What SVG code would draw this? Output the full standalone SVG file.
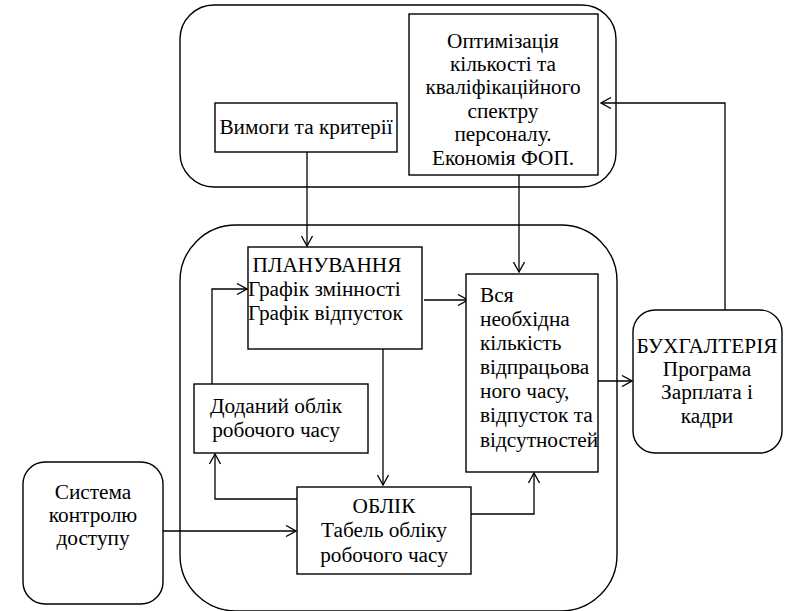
<svg xmlns="http://www.w3.org/2000/svg" width="789" height="611" viewBox="0 0 789 611">
<style>
.box{fill:#fff;stroke:#000;stroke-width:1.4}
.cont{fill:none;stroke:#000;stroke-width:1.4}
.ln{fill:none;stroke:#000;stroke-width:1.3}
text{font-family:'Liberation Serif','Times New Roman',serif;font-size:21.3px;fill:#000}
.c{text-anchor:middle}
</style>
<defs>
<marker id="arr" markerWidth="12" markerHeight="12" viewBox="-11 -6 12 12" refX="0" refY="0" orient="auto" markerUnits="userSpaceOnUse">
<path d="M-10,-5.5 L0,0 L-10,5.5" fill="none" stroke="#000" stroke-width="1.3"/>
</marker>
</defs>
<rect width="789" height="611" fill="#fff"/>
<g id="containers">
<rect class="cont" x="180" y="5" width="436" height="182" rx="34"/>
<rect class="cont" x="180" y="225" width="437" height="386" rx="56"/>
</g>
<g id="connectors">
<path class="ln" d="M307,152 V246" marker-end="url(#arr)"/>
<path class="ln" d="M519,175 V272" marker-end="url(#arr)"/>
<path class="ln" d="M212,384 V289 H247" marker-end="url(#arr)"/>
<path class="ln" d="M424,300 H468" marker-end="url(#arr)"/>
<path class="ln" d="M383,348 V485" marker-end="url(#arr)"/>
<path class="ln" d="M297,499 H215 V454" marker-end="url(#arr)"/>
<path class="ln" d="M471,514 H534 V473" marker-end="url(#arr)"/>
<path class="ln" d="M163,531 H296" marker-end="url(#arr)"/>
<path class="ln" d="M598,381 H632" marker-end="url(#arr)"/>
<path class="ln" d="M725,310 V103 H601" marker-end="url(#arr)"/>
</g>
<g id="opt">
<rect class="box" x="409" y="14" width="189" height="161"/>
<text class="c" x="503" y="48">Оптимізація</text>
<text class="c" x="503" y="71">кількості та</text>
<text class="c" x="503" y="94">кваліфікаційного</text>
<text class="c" x="503" y="118">спектру</text>
<text class="c" x="503" y="141">персоналу.</text>
<text class="c" x="503" y="165">Економія ФОП.</text>
</g>
<g id="vimogi">
<rect class="box" x="215" y="103" width="182" height="49"/>
<text class="c" x="306" y="134">Вимоги та критерії</text>
</g>
<g id="planuvannia">
<rect class="box" x="248" y="247" width="174" height="102"/>
<text class="c" x="327" y="272">ПЛАНУВАННЯ</text>
<text x="248" y="296">Графік змінності</text>
<text x="248" y="320">Графік відпусток</text>
</g>
<g id="vsia">
<rect class="box" x="466" y="274" width="132" height="198"/>
<text x="480" y="302">Вся</text>
<text x="480" y="326">необхідна</text>
<text x="480" y="350">кількість</text>
<text x="480" y="374">відпрацьова</text>
<text x="480" y="398">ного часу,</text>
<text x="480" y="422">відпусток та</text>
<text x="480" y="447">відсутностей</text>
</g>
<g id="dodanyi">
<rect class="box" x="194" y="384" width="174" height="69"/>
<text class="c" x="276" y="413">Доданий облік</text>
<text class="c" x="276" y="437">робочого часу</text>
</g>
<g id="oblik">
<rect class="box" x="297" y="487" width="174" height="87"/>
<text class="c" x="384" y="513">ОБЛІК</text>
<text class="c" x="384" y="537">Табель обліку</text>
<text class="c" x="384" y="562">робочого часу</text>
</g>
<g id="systema">
<rect class="box" x="23" y="462" width="140" height="142" rx="22"/>
<text class="c" x="93" y="499">Система</text>
<text class="c" x="93" y="522">контролю</text>
<text class="c" x="93" y="545">доступу</text>
</g>
<g id="buhgalteria">
<rect class="box" x="633" y="310" width="149" height="143" rx="22"/>
<text class="c" x="707" y="353">БУХГАЛТЕРІЯ</text>
<text class="c" x="707" y="376">Програма</text>
<text class="c" x="707" y="399">Зарплата і</text>
<text class="c" x="707" y="423">кадри</text>
</g>
</svg>
